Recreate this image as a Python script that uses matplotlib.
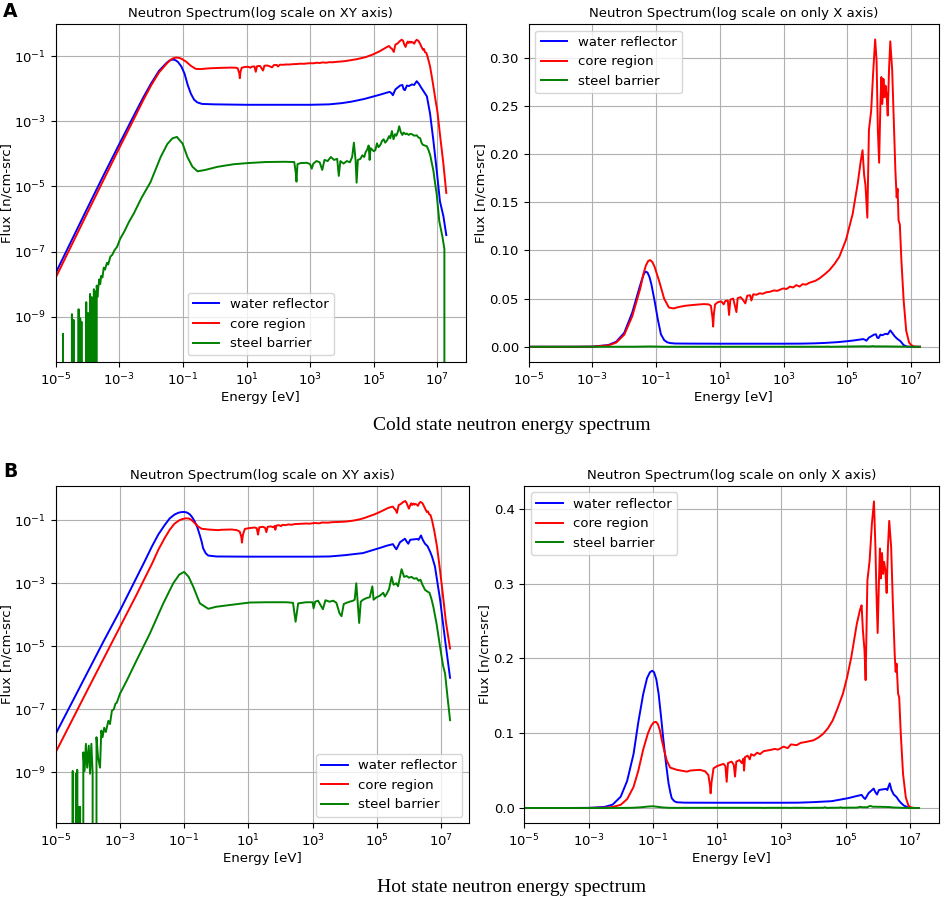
import numpy as np
import matplotlib
matplotlib.use("Agg")
import matplotlib.pyplot as plt
from matplotlib.ticker import FixedLocator, NullLocator

plt.rcParams['font.family'] = ['DejaVu Sans']
plt.rcParams['font.size'] = 9.5

# ---------------- data: (log10 energy [eV], flux [n/cm-src]) ----------------
series_names = ["water reflector", "core region", "steel barrier"]
series_colors = ["blue", "red", "green"]

cold_water = [(-5.0,2.2e-8),(-4.5,2.2e-7),(-4.0,2.2e-6),(-3.5,2.15e-5),(-3.0,2.0e-4),(-2.5,1.8e-3),
    (-2.25,5.3e-3),(-2.0,0.0145),(-1.75,0.0355),(-1.5,0.0640),(-1.42,0.0725),(-1.37,0.0765),(-1.32,0.0780),
    (-1.27,0.0770),(-1.21,0.0725),(-1.15,0.0650),(-1.05,0.0480),(-0.95,0.0290),(-0.85,0.0130),(-0.75,0.0070),
    (-0.65,0.0046),(-0.55,0.0038),
    (-0.4,0.0034),(0.0,0.0033),(1.0,0.0032),(2.0,0.0032),(3.0,0.0032),(3.6,0.0033),(4.0,0.0036),(4.3,0.0040),
    (4.69,0.0048),(5.0,0.0058),(5.21,0.0066),(5.4,0.0075),(5.5,0.0080),(5.56,0.0072),(5.6,0.0063),(5.68,0.0095),
    (5.78,0.0114),(5.83,0.0125),(5.9,0.0130),(5.94,0.0095),(5.98,0.0090),(6.04,0.0125),(6.1,0.0120),(6.2,0.0135),
    (6.27,0.0130),(6.35,0.0170),(6.42,0.0140),(6.48,0.0112),(6.56,0.0085),(6.67,0.0058),(6.77,0.0017),
    (6.875,2.5e-4),(6.98,3.0e-5),(7.08,3.5e-6),(7.19,1.2e-6),(7.28,3.2e-7)]

cold_core = [(-5.0,1.58e-8),(-4.5,1.58e-7),(-4.0,1.58e-6),(-3.5,1.55e-5),(-3.0,1.51e-4),(-2.5,1.41e-3),
    (-2.25,4.4e-3),(-2.0,0.0126),(-1.75,0.0316),(-1.5,0.0603),(-1.4,0.0755),(-1.32,0.0845),(-1.25,0.0890),
    (-1.19,0.0900),(-1.12,0.0880),(-1.05,0.0832),
    (-0.9,0.0676),(-0.75,0.0501),(-0.6,0.0407),(-0.45,0.0398),(-0.3,0.0412),(-0.1,0.0425),(0.1,0.0432),
    (0.3,0.0438),(0.5,0.0443),(0.65,0.0440),(0.72,0.0425),(0.77,0.0300),(0.79,0.0210),(0.81,0.0330),
    (0.85,0.0440),(0.95,0.0465),(1.05,0.0470),(1.12,0.0440),(1.17,0.0475),(1.25,0.0480),(1.29,0.0330),
    (1.33,0.0490),(1.42,0.0500),(1.52,0.0360),(1.56,0.0505),(1.65,0.0515),(1.72,0.0490),(1.80,0.0450),
    (1.86,0.0530),(1.95,0.0535),(1.99,0.0480),(2.05,0.0545),(2.15,0.0540),(2.25,0.0555),(2.35,0.0550),
    (2.45,0.0565),(2.56,0.0570),(2.7,0.0585),(2.8,0.0580),(2.98,0.0605),(3.1,0.0600),(3.2,0.0625),
    (3.3,0.0615),(3.4,0.0640),(3.5,0.0625),(3.6,0.0650),(3.7,0.0645),(3.81,0.0664),(4.0,0.0685),
    (4.13,0.0710),(4.3,0.0755),(4.44,0.0796),(4.6,0.0860),(4.75,0.0934),(4.96,0.111),(5.17,0.138),
    (5.33,0.170),(5.42,0.192),(5.48,0.204),(5.53,0.178),(5.57,0.168),(5.63,0.134),(5.68,0.225),(5.75,0.245),
    (5.81,0.283),(5.875,0.319),(5.92,0.297),(5.96,0.225),(6.0,0.191),(6.04,0.252),(6.07,0.280),(6.1,0.252),
    (6.135,0.278),(6.17,0.259),(6.2,0.271),(6.23,0.263),(6.27,0.240),(6.31,0.287),(6.35,0.317),(6.41,0.287),
    (6.46,0.235),(6.51,0.183),(6.55,0.155),(6.58,0.164),(6.61,0.131),(6.65,0.127),(6.7,0.089),(6.77,0.048),
    (6.85,0.0166),(6.94,0.0045),(7.0,2.0e-3),(7.08,4.0e-4),(7.19,4.8e-5),(7.28,6.3e-6)]

cold_steel = [(-5.0,0),(-4.80,0),(-4.77,3.0e-10),(-4.74,0),(-4.52,0),(-4.49,1.2e-9),(-4.46,0),(-4.44,8e-10),
    (-4.42,0),(-4.31,0),(-4.28,1.7e-9),(-4.25,0),(-4.23,9e-10),(-4.21,0),(-4.19,7e-10),(-4.17,0),(-4.06,0),
    (-4.04,2.8e-9),(-4.02,0),(-3.98,1.3e-9),(-3.96,0),(-3.92,5e-9),(-3.90,0),(-3.87,4e-9),(-3.85,0),
    (-3.80,7e-9),(-3.78,0),(-3.76,6e-9),(-3.74,0),(-3.71,9e-9),(-3.69,4e-9),(-3.66,8e-9),(-3.63,1.4e-8),
    (-3.60,1.0e-8),(-3.57,1.8e-8),(-3.53,1.6e-8),(-3.49,3.2e-8),(-3.45,2.8e-8),(-3.39,4.5e-8),(-3.35,4.0e-8),
    (-3.28,7e-8),(-3.22,8e-8),(-3.15,1.1e-7),(-3.07,1.4e-7),(-2.97,2.5e-7),(-2.85,4.0e-7),(-2.7,8e-7),
    (-2.54,1.5e-6),(-2.3,4.5e-6),(-2.02,1.35e-5),(-1.85,3.5e-5),(-1.7,8e-5),(-1.49,2.0e-4),(-1.33,3.0e-4),
    (-1.19,3.3e-4),(-1.01,2.05e-4),(-0.86,8e-5),(-0.7,4.0e-5),(-0.54,2.9e-5),(-0.3,3.2e-5),(0.09,4.0e-5),
    (0.6,4.8e-5),(1.04,5.2e-5),(1.6,5.6e-5),(2.2,5.7e-5),(2.5,5.6e-5),(2.55,2.5e-5),(2.57,1.4e-5),
    (2.6,4.8e-5),(2.7,5.2e-5),(2.9,5.3e-5),(3.0,4.8e-5),(3.05,3.5e-5),(3.1,5.0e-5),(3.2,6e-5),(3.3,5.5e-5),
    (3.38,3.2e-5),(3.45,6.5e-5),(3.55,6.0e-5),(3.65,8e-5),(3.75,6.5e-5),(3.85,7e-5),(3.9,2.1e-5),(3.95,6e-5),
    (4.05,5e-5),(4.15,6e-5),(4.25,5.5e-5),(4.32,8e-5),(4.375,2.2e-4),(4.43,6e-5),(4.46,1.3e-5),(4.5,6.5e-5),
    (4.58,7e-5),(4.64,9e-5),(4.7,8e-5),(4.74,1.1e-4),(4.8,1.4e-4),(4.84,1.8e-4),(4.87,6.5e-5),(4.9,1.5e-4),
    (5.0,1.2e-4),(5.05,1.3e-4),(5.1,2.1e-4),(5.15,1.6e-4),(5.21,1.9e-4),(5.26,2.5e-4),(5.31,2.8e-4),
    (5.36,2.2e-4),(5.42,2.6e-4),(5.48,3.5e-4),(5.52,3.0e-4),(5.57,5.0e-4),(5.62,2.8e-4),(5.67,4.0e-4),
    (5.71,3.6e-4),(5.76,4.8e-4),(5.8,7.0e-4),(5.85,4.6e-4),(5.9,3.8e-4),(5.94,4.5e-4),(6.0,4.0e-4),
    (6.04,4.2e-4),(6.1,3.8e-4),(6.15,4.1e-4),(6.2,4.0e-4),(6.27,3.6e-4),(6.35,3.7e-4),(6.4,3.2e-4),
    (6.46,3.0e-4),(6.5,2.2e-4),(6.54,1.9e-4),(6.6,1.8e-4),(6.67,1.7e-4),(6.72,1.3e-4),(6.77,9.5e-5),
    (6.82,5.5e-5),(6.875,3.0e-5),(6.93,1.2e-5),(6.98,5.6e-6),(7.06,8.5e-7),(7.16,2.8e-7),(7.22,1.2e-7),
    (7.28,0)]

hot_water = [(-5.0,1.65e-8),(-4.5,1.6e-7),(-4.0,1.55e-6),(-3.5,1.5e-5),(-3.0,1.35e-4),(-2.5,1.4e-3),
    (-2.25,4.5e-3),(-2.0,0.0150),(-1.8,0.036),(-1.6,0.072),(-1.45,0.115),(-1.3,0.152),(-1.18,0.1735),
    (-1.09,0.1815),(-1.02,0.1835),(-0.96,0.1815),(-0.89,0.172),(-0.82,0.153),(-0.75,0.125),(-0.67,0.091),
    (-0.59,0.060),(-0.51,0.033),
    (-0.45,0.020),(-0.41,0.013),(-0.33,0.0090),(-0.25,0.0076),(0.0,0.0071),(1.0,0.0070),(2.0,0.0070),
    (3.0,0.0070),(3.53,0.0071),(4.0,0.0078),(4.57,0.0091),(5.09,0.0132),(5.3,0.0155),(5.5,0.0175),
    (5.56,0.0140),(5.61,0.0120),(5.72,0.0200),(5.8,0.0230),(5.875,0.0260),(5.93,0.0210),(5.98,0.0180),
    (6.04,0.0240),(6.1,0.0245),(6.18,0.0250),(6.26,0.0255),(6.3,0.0240),(6.375,0.0330),(6.43,0.0240),
    (6.5,0.0180),(6.58,0.0150),(6.66,0.0100),(6.72,0.0070),(6.81,3.4e-3),(6.97,3.0e-4),(7.125,1.6e-5),
    (7.28,1.0e-6)]

hot_core = [(-5.0,4.3e-9),(-4.5,4.3e-8),(-4.0,4.3e-7),(-3.5,4.2e-6),(-3.0,4.1e-5),(-2.5,4.0e-4),
    (-2.25,1.3e-3),(-2.0,4.2e-3),(-1.8,0.0118),(-1.6,0.0280),(-1.45,0.0500),(-1.3,0.0780),(-1.15,0.1000),
    (-1.05,0.1100),(-0.97,0.1145),(-0.9,0.1152),(-0.84,0.1120),(-0.78,0.1040),(-0.72,0.0910),(-0.64,0.0760),
    (-0.57,0.0640),(-0.46,0.0540),
    (-0.25,0.0510),(0.06,0.0486),(0.16,0.0500),(0.3,0.0505),(0.47,0.0510),(0.63,0.0490),(0.73,0.0440),
    (0.78,0.0300),(0.8,0.0196),(0.83,0.0350),(0.89,0.0530),(1.0,0.0560),(1.1,0.0575),(1.2,0.0590),
    (1.26,0.0560),(1.3,0.0350),(1.34,0.0600),(1.45,0.0620),(1.52,0.0580),(1.56,0.0420),(1.6,0.0620),
    (1.7,0.0640),(1.77,0.0600),(1.82,0.0660),(1.84,0.0500),(1.87,0.0680),(1.95,0.0700),(2.02,0.0650),
    (2.06,0.0720),(2.15,0.0700),(2.25,0.0740),(2.34,0.0720),(2.45,0.0760),(2.65,0.0775),(2.8,0.0790),
    (2.9,0.0780),(3.07,0.0820),(3.2,0.0800),(3.3,0.0850),(3.48,0.0840),(3.6,0.0870),(3.8,0.0886),
    (4.0,0.0905),(4.15,0.0940),(4.3,0.0990),(4.45,0.1065),(4.6,0.1170),(4.75,0.1330),(4.92,0.1530),
    (5.05,0.1750),(5.18,0.2020),(5.35,0.2460),(5.45,0.2650),(5.5,0.2710),(5.54,0.2375),(5.59,0.2110),
    (5.625,0.1710),(5.68,0.3040),(5.75,0.3310),(5.82,0.3800),(5.885,0.4100),(5.93,0.3490),(5.96,0.2910),
    (6.0,0.2340),(6.04,0.3040),(6.07,0.3470),(6.1,0.3070),(6.135,0.3410),(6.17,0.3130),(6.2,0.3290),
    (6.24,0.3180),(6.28,0.2875),(6.32,0.3490),(6.36,0.3840),(6.42,0.3490),(6.47,0.2780),(6.53,0.2060),
    (6.56,0.1820),(6.59,0.1930),(6.635,0.1530),(6.67,0.1480),(6.72,0.0990),(6.79,0.0455),(6.875,0.0143),
    (6.96,3.0e-3),(7.05,5.0e-4),(7.15,6.0e-5),(7.28,8.5e-6)]

hot_steel = [(-5.0,0),(-4.49,0),(-4.47,1.1e-9),(-4.45,0),(-4.39,0),(-4.37,9e-10),(-4.35,0),(-4.33,1.2e-9),
    (-4.31,0),(-4.29,8e-11),(-4.27,0),(-4.24,8e-11),(-4.22,0),(-4.14,4.3e-9),(-4.10,1.1e-9),(-4.06,8e-9),
    (-4.02,1.4e-9),(-3.97,7e-9),(-3.93,9e-10),(-3.89,8e-9),(-3.85,1.0e-9),(-3.81,0),(-3.77,0),(-3.73,1.3e-8),
    (-3.68,2.9e-9),(-3.62,1.4e-9),(-3.58,2.1e-8),(-3.54,1.3e-8),(-3.49,2.6e-8),(-3.44,1.9e-8),(-3.36,4.3e-8),
    (-3.31,3.4e-8),(-3.25,9e-8),(-3.19,1.0e-7),(-3.14,1.5e-7),(-3.1,1.6e-7),(-3.0,3.1e-7),(-2.79,8e-7),
    (-2.48,3.6e-6),(-2.07,2.5e-5),(-1.65,2.3e-4),(-1.34,1.0e-3),(-1.15,1.9e-3),(-1.0,2.3e-3),(-0.86,1.6e-3),
    (-0.72,7.9e-4),(-0.51,2.3e-4),(-0.25,1.55e-4),(0.0,1.8e-4),(0.52,2.1e-4),(1.04,2.45e-4),(1.56,2.5e-4),
    (2.18,2.5e-4),(2.39,2.4e-4),(2.47,6e-5),(2.55,2.3e-4),(2.8,2.5e-4),(3.0,2.5e-4),(3.03,1.6e-4),
    (3.08,2.6e-4),(3.17,2.8e-4),(3.32,1.5e-4),(3.4,2.9e-4),(3.53,2.6e-4),(3.64,2.8e-4),(3.74,2.4e-4),
    (3.84,1.1e-4),(3.9,9e-5),(3.97,2.2e-4),(4.1,2.5e-4),(4.26,2.8e-4),(4.31,3.0e-4),(4.36,1.0e-3),
    (4.41,2.0e-4),(4.45,5.5e-5),(4.5,2.6e-4),(4.57,3.0e-4),(4.68,3.4e-4),(4.78,3.6e-4),(4.86,8e-4),
    (4.9,3.0e-4),(4.99,3.6e-4),(5.09,4.0e-4),(5.2,5.0e-4),(5.25,3.8e-4),(5.3,4.5e-4),(5.38,6.5e-4),
    (5.46,1.6e-3),(5.52,9e-4),(5.61,1.0e-3),(5.66,8e-4),(5.77,2.8e-3),(5.85,1.6e-3),(5.93,1.7e-3),
    (6.0,1.5e-3),(6.08,1.6e-3),(6.16,1.4e-3),(6.24,1.45e-3),(6.3,1.2e-3),(6.36,1.3e-3),(6.42,9e-4),
    (6.5,6.2e-4),(6.57,5.5e-4),(6.64,5.0e-4),(6.7,3.2e-4),(6.76,1.8e-4),(6.86,5.2e-5),(6.97,9.5e-6),
    (7.06,2.5e-6),(7.125,1.35e-6),(7.2,2.5e-7),(7.28,4.5e-8)]

log_xticks = [1e-5, 1e-3, 1e-1, 1e1, 1e3, 1e5, 1e7]
log_yticks = [1e-9, 1e-7, 1e-5, 1e-3, 1e-1]
cold_lin_yticks = [0.00, 0.05, 0.10, 0.15, 0.20, 0.25, 0.30]
hot_lin_yticks = [0.0, 0.1, 0.2, 0.3, 0.4]

title_log = "Neutron Spectrum(log scale on XY axis)"
title_lin = "Neutron Spectrum(log scale on only X axis)"
xlabel = "Energy [eV]"
ylabel = "Flux [n/cm-src]"
cold_caption = "Cold state neutron energy spectrum"
hot_caption = "Hot state neutron energy spectrum"

# ---------------- figure ----------------
W, H = 941, 901
fig = plt.figure(figsize=(W / 100, H / 100), dpi=100)


def px_axes(x0, x1, y0, y1):
    return fig.add_axes([x0 / W, 1 - y1 / H, (x1 - x0) / W, (y1 - y0) / H])


def unzip(pairs):
    e = np.power(10.0, np.array([p[0] for p in pairs]))
    f = np.array([p[1] for p in pairs], dtype=float)
    return e, f


def draw(ax, curves, logy, ylim, yticks, legend_loc, title, xmax_exp, ylab_x):
    for (name, color, pairs) in curves:
        e, f = unzip(pairs)
        ax.plot(e, f, color=color, lw=1.4, label=name)
    ax.set_xscale('log')
    if logy:
        ax.set_yscale('log', nonpositive='clip')
    ax.set_xlim(1e-5, 10 ** xmax_exp)
    ax.set_ylim(*ylim)
    ax.xaxis.set_major_locator(FixedLocator(log_xticks))
    ax.xaxis.set_minor_locator(NullLocator())
    ax.yaxis.set_major_locator(FixedLocator(yticks))
    ax.yaxis.set_minor_locator(NullLocator())
    ax.grid(True, color='#b0b0b0', lw=0.8)
    ax.set_title(title, fontsize=9.5, pad=5)
    ax.set_xlabel(xlabel, labelpad=2)
    ax.set_ylabel(ylabel)
    ax.yaxis.set_label_coords(ylab_x, 0.5)
    ax.legend(loc=legend_loc, fontsize=9.5)


cold_curves = [(series_names[0], series_colors[0], cold_water),
               (series_names[1], series_colors[1], cold_core),
               (series_names[2], series_colors[2], cold_steel)]
hot_curves = [(series_names[0], series_colors[0], hot_water),
              (series_names[1], series_colors[1], hot_core),
              (series_names[2], series_colors[2], hot_steel)]

ax1 = px_axes(55.7, 465.7, 24, 362)
draw(ax1, cold_curves, True, (10 ** -10.39, 10 ** -0.015), log_yticks, 'lower center', title_log, 7.89, -0.102)
ax2 = px_axes(528.7, 938.7, 24, 362)
draw(ax2, cold_curves, False, (-0.0158, 0.335), cold_lin_yticks, 'upper left', title_lin, 7.87, -0.101)
ax3 = px_axes(55.7, 469.0, 485.7, 823.3)
draw(ax3, hot_curves, True, (10 ** -10.62, 10 ** 0.098), log_yticks, 'lower right', title_log, 7.87, -0.103)
ax4 = px_axes(524.3, 938.7, 485.7, 823.3)
draw(ax4, hot_curves, False, (-0.0205, 0.431), hot_lin_yticks, 'upper left', title_lin, 7.9, -0.079)

fig.text(3 / W, 1 - 2 / H, "A", ha='left', va='top', fontsize=13.5, fontweight='bold')
fig.text(3 / W, 1 - 462 / H, "B", ha='left', va='top', fontsize=13.5, fontweight='bold')
fig.text(512 / W, 1 - 426 / H, cold_caption, ha='center', va='center', fontsize=14,
         family=['Liberation Serif', 'DejaVu Serif'])
fig.text(512 / W, 1 - 888 / H, hot_caption, ha='center', va='center', fontsize=14,
         family=['Liberation Serif', 'DejaVu Serif'])

fig.savefig("out.png", dpi=100)
